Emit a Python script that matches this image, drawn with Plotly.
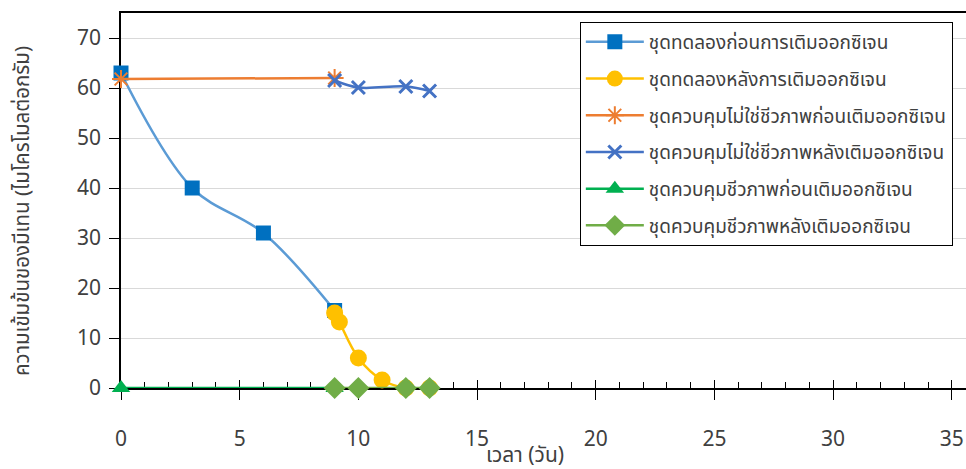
import plotly.graph_objects as go

# Methane concentration (micromol per gram) over time (days)
exp_before_x = [0, 3, 6, 9]
exp_before_y = [63, 40, 31, 15.5]

exp_after_x = [9, 9.2, 10, 11, 12, 13]
exp_after_y = [15, 13.2, 6, 1.6, 0, 0]

abio_before_x = [0, 9]
abio_before_y = [61.8, 62]

abio_after_x = [9, 10, 12, 13]
abio_after_y = [61.5, 60.1, 60.3, 59.4]

bio_before_x = [0, 9]
bio_before_y = [0, 0]

bio_after_x = [9, 10, 12, 13]
bio_after_y = [0, 0, 0, 0]

names = [
    "ชุดทดลองก่อนการเติมออกซิเจน",
    "ชุดทดลองหลังการเติมออกซิเจน",
    "ชุดควบคุมไม่ใช่ชีวภาพก่อนเติมออกซิเจน",
    "ชุดควบคุมไม่ใช่ชีวภาพหลังเติมออกซิเจน",
    "ชุดควบคุมชีวภาพก่อนเติมออกซิเจน",
    "ชุดควบคุมชีวภาพหลังเติมออกซิเจน",
]
x_ticks = [0, 5, 10, 15, 20, 25, 30, 35]
y_ticks = [0, 10, 20, 30, 40, 50, 60, 70]

FONT = "Noto Sans, Noto Sans Thai, Loma, Garuda, sans-serif"
TXT = "#404040"

fig = go.Figure()

# Base subplot carries the axes; the data sits on an overlaid x-axis so that
# every series is drawn above the axis lines and tick marks.
fig.add_trace(go.Scatter(x=[0], y=[None], showlegend=False, hoverinfo="skip"))

def add(x, y, name, line_color, marker, shape="linear", gid=""):
    fig.add_trace(go.Scatter(
        x=x, y=y, name=name, mode="lines+markers", xaxis="x2",
        line=dict(color=line_color, width=2.5, shape=shape, smoothing=1.0),
        marker=marker, legendgroup=gid, cliponaxis=False,
    ))

add(exp_before_x, exp_before_y, names[0], "#5B9BD5",
    dict(symbol="square", size=15, color="#0070C0"), shape="spline", gid="a")
add(exp_after_x, exp_after_y, names[1], "#FFC000",
    dict(symbol="circle", size=17, color="#FFC000"), shape="spline", gid="b")
add(abio_before_x, abio_before_y, names[2], "#ED7D31",
    dict(symbol="asterisk-open", size=15, color="#ED7D31",
         line=dict(color="#ED7D31", width=2)), gid="c")
add(abio_after_x, abio_after_y, names[3], "#4472C4",
    dict(symbol="x-thin-open", size=13, color="#4472C4",
         line=dict(color="#4472C4", width=3)), shape="spline", gid="d")
add(bio_before_x, bio_before_y, names[4], "#00B050",
    dict(symbol="triangle-up", size=16, color="#00B050"), gid="e")
add(bio_after_x, bio_after_y, names[5], "#70AD47",
    dict(symbol="diamond", size=17, color="#70AD47"), gid="f")

fig.update_layout(
    width=966, height=469,
    margin=dict(l=121, r=0, t=13, b=81),
    paper_bgcolor="white", plot_bgcolor="white",
    font=dict(family=FONT, color=TXT, size=20),
    showlegend=True,
    legend=dict(
        x=0.543, y=0.976, xanchor="left", yanchor="top",
        bordercolor="black", borderwidth=1, bgcolor="white",
        font=dict(family=FONT, size=19, color=TXT),
        traceorder="grouped", tracegroupgap=9, itemwidth=58,
    ),
    xaxis=dict(
        range=[0, 35.6], tickmode="array", tickvals=x_ticks,
        ticktext=[str(v) for v in x_ticks],
        showgrid=False, zeroline=False, layer="below traces",
        showline=True, linecolor="black", linewidth=1.5, mirror=True,
        ticks="outside", ticklen=10, tickwidth=1.2, tickcolor="black",
        ticklabelstandoff=21,
        tickfont=dict(size=21, color=TXT),
        minor=dict(ticks="inside", ticklen=6, dtick=1, tickwidth=1,
                   tickcolor="black", showgrid=False),
    ),
    # Upper half of the major x ticks (they cross the axis line)
    xaxis2=dict(
        overlaying="x", matches="x", anchor="y", side="bottom",
        tickmode="array", tickvals=x_ticks, showticklabels=False,
        ticks="inside", ticklen=8, tickwidth=1.2, tickcolor="black",
        showgrid=False, zeroline=False, showline=False, layer="below traces",
    ),
    yaxis=dict(
        range=[0, 75], tickmode="array", tickvals=y_ticks,
        ticktext=[str(v) for v in y_ticks],
        showgrid=True, gridcolor="#D9D9D9", gridwidth=1.2, zeroline=False,
        showline=True, linecolor="black", linewidth=1.5, layer="below traces",
        ticks="outside", ticklen=10, tickwidth=1.2, tickcolor="black",
        ticklabelstandoff=4,
        tickfont=dict(size=21, color=TXT),
    ),
    annotations=[
        dict(text="เวลา (วัน)", xref="paper", yref="paper",
             x=(525 - 121) / 845, y=-(469 - 388) / 375,
             xanchor="center", yanchor="bottom", showarrow=False,
             borderpad=0, font=dict(size=21, color=TXT)),
        dict(text="ความเข้มข้นของมีเทน (ไมโครโมลต่อกรัม)", xref="paper",
             yref="paper", x=-(121 - 21) / 845, y=(388 - 211) / 375,
             xanchor="center", yanchor="middle", textangle=-90,
             showarrow=False, font=dict(size=20.5, color=TXT)),
    ],
)

fig.write_html("out.html")
